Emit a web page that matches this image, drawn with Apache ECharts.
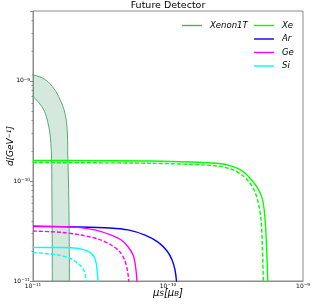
<!DOCTYPE html>
<html><head><meta charset="utf-8">
<script src="https://cdn.jsdelivr.net/npm/echarts@6/dist/echarts.min.js"></script>
<style>html,body{margin:0;padding:0;background:#fff}#c{width:313px;height:304px}</style>
</head><body><div id="c"></div>
<script>
// axis ranges / ticks
const xRange = [1e-11, 1e-9];
const yRange = [1e-11, 5e-9];

// Xenon1T band edges [mu, d]
const xenonOuter = [[8.0e-12,1.23e-9],[1e-11,1.148e-9],[1.127e-11,1.096e-9],[1.29e-11,9.84e-10],[1.48e-11,7.82e-10],[1.61e-11,6.21e-10],[1.70e-11,5.13e-10],[1.77e-11,3.92e-10],[1.80e-11,2.88e-10],[1.81e-11,1.82e-10],[1.83e-11,1.02e-10],[1.85e-11,4.07e-11],[1.86e-11,1e-11],[1.86e-11,6.5e-12]];
const xenonInner = [[8.7e-12,8.13e-10],[1e-11,6.97e-10],[1.089e-11,6.21e-10],[1.22e-11,4.93e-10],[1.33e-11,3.11e-10],[1.37e-11,1.82e-10],[1.38e-11,8.13e-11],[1.39e-11,1e-11],[1.39e-11,6.5e-12]];

// future detector curves [mu, d]
const xeSolid = [[1e-11,1.603e-10],[3.13e-11,1.596e-10],[7.36e-11,1.585e-10],[2.30e-10,1.503e-10],[3.05e-10,1.39e-10],[3.61e-10,1.239e-10],[4.05e-10,1.064e-10],[4.54e-10,8.77e-11],[4.94e-10,6.97e-11],[5.16e-10,5.13e-11],[5.30e-10,3.24e-11],[5.40e-10,1.82e-11],[5.48e-10,1e-11],[5.5e-10,6.5e-12]];
const xeDashed = [[1e-11,1.524e-10],[7.36e-11,1.503e-10],[2.30e-10,1.413e-10],[3.05e-10,1.288e-10],[3.61e-10,1.122e-10],[4.05e-10,9.48e-11],[4.40e-10,7.82e-11],[4.67e-10,5.98e-11],[4.89e-10,4.07e-11],[5.01e-10,2.04e-11],[5.08e-10,1e-11],[5.1e-10,6.5e-12]];
const arSolid = [[1e-11,3.51e-11],[2.23e-11,3.47e-11],[3.72e-11,3.39e-11],[5.06e-11,3.24e-11],[6.76e-11,2.88e-11],[8.43e-11,2.45e-11],[9.84e-11,1.995e-11],[1.072e-10,1.622e-11],[1.127e-10,1.288e-11],[1.155e-10,1e-11],[1.165e-10,7.2e-12]];
const geSolid = [[1e-11,3.55e-11],[2.15e-11,3.44e-11],[2.86e-11,3.24e-11],[3.80e-11,2.88e-11],[4.51e-11,2.57e-11],[5.06e-11,2.20e-11],[5.51e-11,1.82e-11],[5.73e-11,1.445e-11],[5.89e-11,1e-11],[5.94e-11,7.2e-12]];
const geDashed = [[1e-11,3.16e-11],[1.61e-11,3.07e-11],[2.27e-11,2.88e-11],[3.03e-11,2.63e-11],[3.80e-11,2.29e-11],[4.39e-11,1.96e-11],[4.77e-11,1.622e-11],[5.0e-11,1.288e-11],[5.12e-11,1e-11],[5.16e-11,7.2e-12]];
const siSolid = [[1e-11,2.17e-11],[1.46e-11,2.16e-11],[1.92e-11,2.15e-11],[2.34e-11,2.07e-11],[2.63e-11,1.94e-11],[2.83e-11,1.75e-11],[2.94e-11,1.50e-11],[2.99e-11,1.24e-11],[3.03e-11,1e-11],[3.04e-11,7.2e-12]];
const siDashed = [[1e-11,1.92e-11],[1.29e-11,1.875e-11],[1.62e-11,1.79e-11],[1.92e-11,1.66e-11],[2.15e-11,1.50e-11],[2.34e-11,1.34e-11],[2.44e-11,1.15e-11],[2.48e-11,1e-11],[2.5e-11,7.2e-12]];

function powLabel(v){
  const e = Math.log10(v);
  if (Math.abs(e - Math.round(e)) > 1e-6) return '';
  return '{b|10}{s|' + String(Math.round(e)).replace('-', '−') + '}';
}
const labelRich = {
  b: {fontSize: 6, fontFamily: 'DejaVu Sans', color: '#000'},
  s: {fontSize: 4.2, fontFamily: 'DejaVu Sans', color: '#000', verticalAlign: 'top', padding: [0,0,3,0]}
};
const frame = '#8c8c8c';
const lineIcon = 'path://M0,0L20,0L20,1.4L0,1.4Z';
const legendText = {fontSize: 8.5, fontStyle: 'italic', fontFamily: 'DejaVu Sans', color: '#000', padding: [0,0,0,3]};

function line(name, data, color, dashed){
  return {type: 'line', name, data, symbol: 'none', smooth: 0.3, clip: true,
    lineStyle: {color, width: 1.4, type: dashed ? [4, 2] : 'solid'}, itemStyle: {color}, z: 3};
}

const chart = echarts.init(document.getElementById('c'), null, {renderer: 'canvas'});
chart.setOption({
  animation: false,
  backgroundColor: '#fff',
  title: {text: 'Future Detector', left: 168, top: 1, textAlign: 'center', padding: 0,
    textStyle: {fontSize: 9.5, fontWeight: 'normal', color: '#000', fontFamily: 'DejaVu Sans'}},
  grid: {left: 33, right: 10, top: 11, bottom: 23, show: true, borderColor: frame, borderWidth: 1,
    containLabel: false, outerBoundsMode: 'none'},
  legend: [
    {data: ['Xenon1T'], left: 182, top: 21, padding: 0, itemWidth: 20, itemHeight: 10, icon: lineIcon,
      textStyle: legendText},
    {data: ['Xe','Ar','Ge','Si'], orient: 'vertical', left: 254, top: 21, padding: 0, itemGap: 4.5, itemWidth: 20, itemHeight: 10,
      icon: lineIcon, textStyle: legendText}
  ],
  xAxis: {type: 'log', min: xRange[0], max: xRange[1], logBase: 10,
    name: '{m|μ}{u|S}{m|[μ}{u|B}{m|]}', nameLocation: 'middle', nameGap: 7, nameMoveOverlap: false,
    nameTextStyle: {rich: {m: {fontSize: 10, fontStyle: 'italic', fontFamily: 'DejaVu Sans', color: '#000'},
      u: {fontSize: 7, fontStyle: 'italic', fontFamily: 'DejaVu Sans', color: '#000', verticalAlign: 'bottom'}}},
    axisLine: {lineStyle: {color: frame}}, axisTick: {show: false},
    splitLine: {show: false},
    axisLabel: {formatter: powLabel, rich: labelRich, margin: 2, showMinLabel: true, showMaxLabel: true}},
  yAxis: {type: 'log', min: yRange[0], max: yRange[1], logBase: 10,
    name: '{m|d[GeV}{s|−1}{m|]}', nameLocation: 'middle', nameGap: 18, nameRotate: 90, nameMoveOverlap: false,
    nameTextStyle: {rich: {m: {fontSize: 9, fontStyle: 'italic', fontFamily: 'DejaVu Sans', color: '#000'},
      s: {fontSize: 6, fontStyle: 'italic', fontFamily: 'DejaVu Sans', color: '#000', verticalAlign: 'top'}}},
    axisLine: {lineStyle: {color: frame}}, axisTick: {show: true, length: 3, lineStyle: {color: frame}},
    minorTick: {show: true, splitNumber: 9, length: 1.5, lineStyle: {color: frame}},
    splitLine: {show: false},
    axisLabel: {formatter: powLabel, rich: labelRich, margin: 3, showMinLabel: true, showMaxLabel: true}},
  series: [
    {type: 'custom', name: 'band', clip: true, silent: true, z: 1,
      data: [xenonOuter[0]],
      renderItem: function(params, api){
        const pts = xenonOuter.concat(xenonInner.slice().reverse()).map(p => api.coord(p));
        return {type: 'polygon', shape: {points: pts}, style: {fill: 'rgba(46,139,87,0.2)', stroke: null}};
      }},
    {type: 'line', name: 'Xenon1T', data: xenonOuter, symbol: 'none', smooth: 0.3, clip: true,
      lineStyle: {color: '#5aa87a', width: 1}, itemStyle: {color: '#5aa87a'}, z: 2},
    {type: 'line', name: 'Xenon1T', data: xenonInner, symbol: 'none', smooth: 0.3, clip: true,
      lineStyle: {color: '#5aa87a', width: 1}, itemStyle: {color: '#5aa87a'}, z: 2},
    line('Xe', xeSolid, '#00ff00', false),
    line('Xe dashed', xeDashed, '#00ff00', true),
    line('Ar', arSolid, '#0000ff', false),
    line('Ge', geSolid, '#ff00ff', false),
    line('Ge dashed', geDashed, '#ff00ff', true),
    line('Si', siSolid, '#00ffff', false),
    line('Si dashed', siDashed, '#00ffff', true)
  ]
});
</script></body></html>
